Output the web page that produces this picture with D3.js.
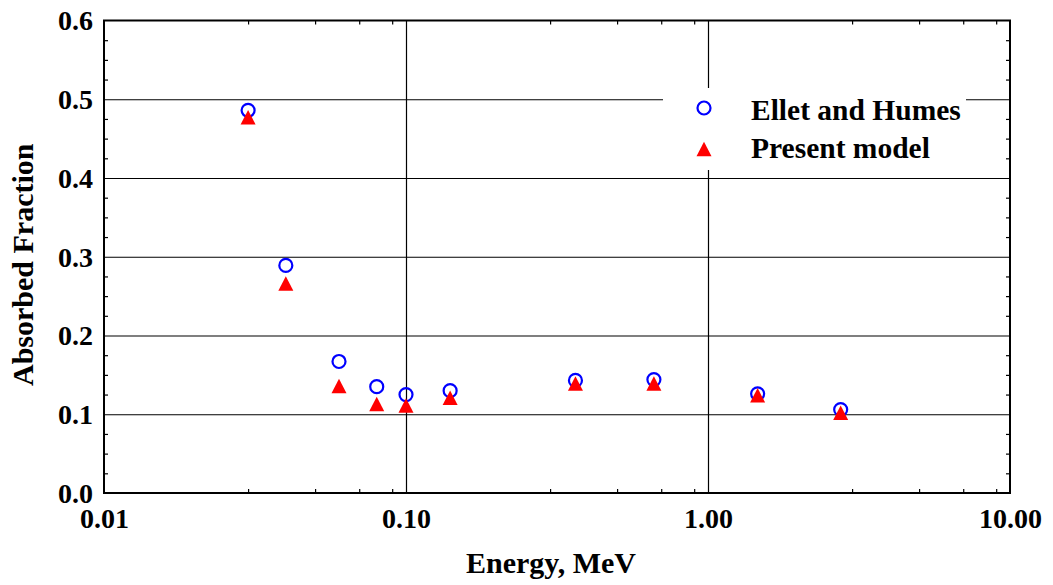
<!DOCTYPE html>
<html>
<head>
<meta charset="utf-8">
<script src="https://cdn.jsdelivr.net/npm/d3@7"></script>
<style>
  html, body { margin: 0; padding: 0; background: #fff; }
  svg text { font-family: "Liberation Serif", "Times New Roman", serif; font-weight: bold; fill: #000; }
</style>
</head>
<body>
<svg id="chart" width="1053" height="585"></svg>
<script>
// Photon energies (MeV) and absorbed fractions for the two data sets
const energies = [0.03, 0.04, 0.06, 0.08, 0.10, 0.14, 0.364, 0.662, 1.46, 2.75];
const ellettHumes = [0.486, 0.289, 0.167, 0.135, 0.125, 0.130, 0.143, 0.144, 0.126, 0.106];
const presentModel = [0.477, 0.266, 0.136, 0.113, 0.111, 0.121, 0.139, 0.139, 0.124, 0.102];

const xTicks = [0.01, 0.1, 1, 10];
const xTickLabels = ["0.01", "0.10", "1.00", "10.00"];
const yTicks = [0, 0.1, 0.2, 0.3, 0.4, 0.5, 0.6];
const xMinor = [0.03, 0.05, 0.07, 0.09, 0.3, 0.5, 0.7, 0.9, 3, 5, 7, 9];
const yMinor = d3.range(0, 0.6001, 0.025).filter((d, i) => i % 4 !== 0);

const seriesNames = ["Ellet and Humes", "Present model"];

const svg = d3.select("#chart");
const plotLeft = 104, plotRight = 1010, plotTop = 20.5, plotBottom = 493;

const x = d3.scaleLog().domain([0.01, 10]).range([plotLeft, plotRight]);
const y = d3.scaleLinear().domain([0, 0.6]).range([plotBottom, plotTop]);

function tidy(g) {
  g.select(".domain").remove();
  g.selectAll("line").attr("stroke", "#000").attr("stroke-width", 1.2);
}

// grid lines
const grid = svg.append("g").attr("class", "grid");
grid.append("g")
  .attr("transform", `translate(${plotLeft},0)`)
  .call(d3.axisLeft(y).tickValues(yTicks.slice(1, -1)).tickSize(-(plotRight - plotLeft)).tickFormat(""))
  .call(tidy);
grid.append("g")
  .attr("transform", `translate(0,${plotBottom})`)
  .call(d3.axisBottom(x).tickValues(xTicks.slice(1, -1)).tickSize(-(plotBottom - plotTop)).tickFormat(""))
  .call(tidy);

// minor ticks, pointing inward on all four sides
const minor = svg.append("g").attr("class", "minor");
minor.append("g").attr("transform", `translate(${plotLeft},0)`)
  .call(d3.axisLeft(y).tickValues(yMinor).tickSize(-4).tickFormat("")).call(tidy);
minor.append("g").attr("transform", `translate(${plotRight},0)`)
  .call(d3.axisRight(y).tickValues(yMinor).tickSize(-4).tickFormat("")).call(tidy);
minor.append("g").attr("transform", `translate(0,${plotBottom})`)
  .call(d3.axisBottom(x).tickValues(xMinor).tickSize(-4).tickFormat("")).call(tidy);
minor.append("g").attr("transform", `translate(0,${plotTop})`)
  .call(d3.axisTop(x).tickValues(xMinor).tickSize(-4).tickFormat("")).call(tidy);

// legend box (white panel over the grid)
const legend = svg.append("g").attr("class", "legend");
legend.append("rect")
  .attr("x", 663).attr("y", 88).attr("width", 303).attr("height", 82)
  .attr("fill", "#fff");

// frame
svg.append("rect")
  .attr("x", plotLeft).attr("y", plotTop)
  .attr("width", plotRight - plotLeft).attr("height", plotBottom - plotTop)
  .attr("fill", "none").attr("stroke", "#000").attr("stroke-width", 2);

// tick labels
svg.append("g")
  .attr("transform", `translate(${plotLeft},0)`)
  .call(d3.axisLeft(y).tickValues(yTicks).tickSize(0).tickPadding(11).tickFormat(d3.format(".1f")))
  .call(g => g.select(".domain").remove())
  .selectAll("text").attr("font-size", 28).attr("dy", "0.33em");

svg.append("g")
  .attr("transform", `translate(0,${plotBottom})`)
  .call(d3.axisBottom(x).tickValues(xTicks).tickSize(0).tickFormat((d, i) => xTickLabels[i]))
  .call(g => g.select(".domain").remove())
  .selectAll("text").attr("font-size", 28).attr("y", 35).attr("dy", 0);

// axis titles
svg.append("text")
  .attr("x", 551).attr("y", 573)
  .attr("text-anchor", "middle").attr("font-size", 30)
  .text("Energy, MeV");
svg.append("text")
  .attr("transform", `translate(33,${(plotTop + plotBottom) / 2 + 8}) rotate(-90)`)
  .attr("text-anchor", "middle").attr("font-size", 30)
  .text("Absorbed Fraction");

// marker shapes
const triHalfW = 7.5, triH = 14.5;
function trianglePath(cx, cy) {
  return `M${cx},${cy - triH / 2}L${cx + triHalfW},${cy + triH / 2}L${cx - triHalfW},${cy + triH / 2}Z`;
}

const plot = svg.append("g").attr("class", "points");
plot.selectAll("circle.eh")
  .data(energies.map((e, i) => [e, ellettHumes[i]]))
  .join("circle").attr("class", "eh")
  .attr("cx", d => x(d[0])).attr("cy", d => y(d[1]))
  .attr("r", 6.5).attr("fill", "none").attr("stroke", "#0000ff").attr("stroke-width", 2.2);
plot.selectAll("path.pm")
  .data(energies.map((e, i) => [e, presentModel[i]]))
  .join("path").attr("class", "pm")
  .attr("d", d => trianglePath(x(d[0]), y(d[1])))
  .attr("fill", "#ff0000");

// legend entries
legend.append("circle").attr("cx", 704).attr("cy", 108).attr("r", 6.5)
  .attr("fill", "none").attr("stroke", "#0000ff").attr("stroke-width", 2.2);
legend.append("path").attr("d", trianglePath(704, 149)).attr("fill", "#ff0000");
legend.append("text").attr("x", 751).attr("y", 120).attr("font-size", 29.5).text(seriesNames[0]);
legend.append("text").attr("x", 751).attr("y", 158).attr("font-size", 29.5).text(seriesNames[1]);
</script>
</body>
</html>
